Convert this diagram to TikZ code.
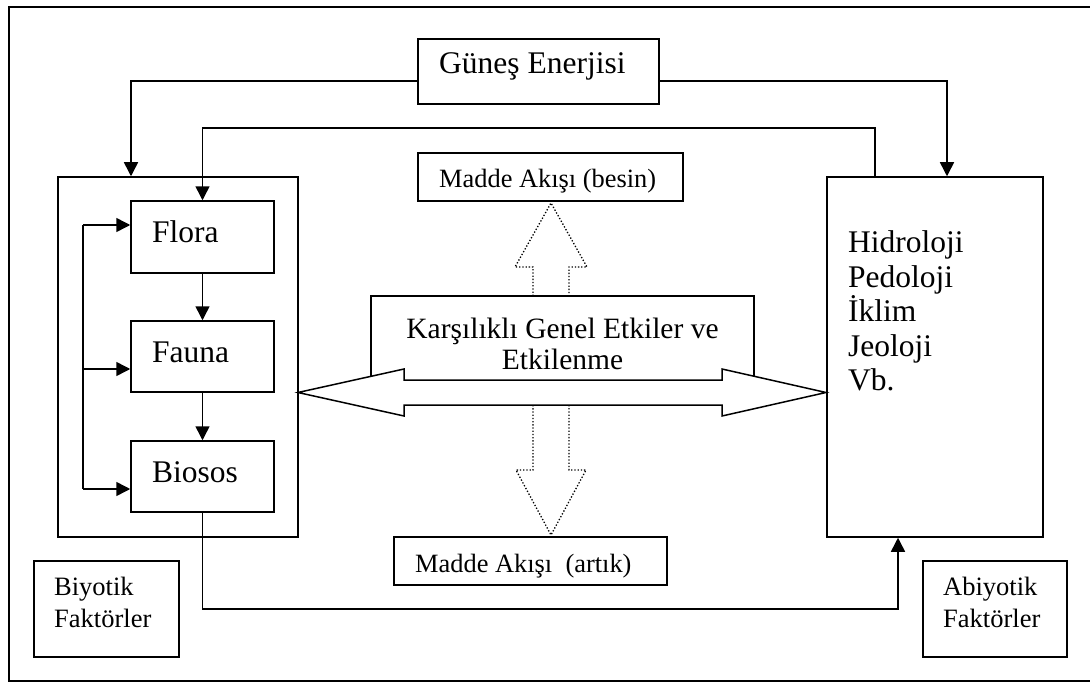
\documentclass[tikz,border=0pt]{standalone}
\usepackage{fontspec}
\setmainfont{Liberation Serif}
\usetikzlibrary{arrows.meta}
\begin{document}
\begin{tikzpicture}[x=1pt,y=-1pt,
  box/.style={draw, line width=1.5pt, fill=white, inner sep=0pt},
  conn/.style={line width=1.5pt, -{Triangle[length=14pt,width=14pt]}},
  wire/.style={line width=1.5pt},
  flow/.style={line width=1.3pt, dash pattern=on 1.3pt off 1.9pt},
  big/.style={font=\fontsize{31.5}{34.5}\selectfont, inner sep=0pt},
  mid/.style={font=\fontsize{26.4}{32}\selectfont, inner sep=0pt},
]
\useasboundingbox (0,0) rectangle (1090,682);
% outer frame
\draw[line width=2.2pt] (1096,7) -- (9,7) -- (9,680.8) -- (1096,680.8);

% energy source
\node[box, minimum width=241pt, minimum height=65pt] (gunes) at (538.5,71.5) {};
\node[big, anchor=base west] (gunesT) at (439,74) {Güneş Enerjisi};

% material flow boxes
\node[box, minimum width=265pt, minimum height=48pt] (besin) at (550.5,177) {};
\node[mid, anchor=base west] (besinT) at (439,187) {Madde Akışı (besin)};
\node[box, minimum width=273pt, minimum height=48pt] (artik) at (530.5,561) {};
\node[mid, anchor=base west] (artikT) at (415,572) {Madde Akışı\ \ (artık)};

% biotic side
\node[box, minimum width=240pt, minimum height=360pt] (bio) at (178,357) {};
\node[box, minimum width=143pt, minimum height=72pt] (flora) at (202.5,237) {};
\node[box, minimum width=143pt, minimum height=71pt] (fauna) at (202.5,356.5) {};
\node[box, minimum width=143pt, minimum height=71pt] (biosos) at (202.5,476.5) {};
\node[big, anchor=base west] (floraT) at (152,242) {Flora};
\node[big, anchor=base west] (faunaT) at (152,362) {Fauna};
\node[big, anchor=base west] (biososT) at (152,482) {Biosos};

% abiotic side
\node[box, minimum width=216pt, minimum height=360pt] (abio) at (935,357) {};
\node[big, anchor=west, align=left] (abioT) at (848,311) {Hidroloji\\Pedoloji\\İklim\\Jeoloji\\Vb.};

% legend boxes
\node[box, minimum width=145pt, minimum height=96pt] (biyotik) at (106.5,609) {};
\node[inner sep=0pt, anchor=west, align=left, font=\fontsize{26.5}{32}\selectfont] (biyotikT) at (54,602) {Biyotik\\Faktörler};
\node[box, minimum width=144pt, minimum height=96pt] (abiyotik) at (995,609) {};
\node[inner sep=0pt, anchor=west, align=left, font=\fontsize{26.5}{32}\selectfont] (abiyotikT) at (943,602) {Abiyotik\\Faktörler};

% mutual interaction box and double arrow
\node[box, minimum width=383pt, minimum height=96pt] (karsi) at (562.5,344) {};
\draw[line width=1.5pt, fill=white] (298,392.5) -- (404,369) -- (404,380) -- (722,380)
  -- (722,369) -- (826,392.5) -- (722,416) -- (722,405) -- (404,405) -- (404,416) -- cycle;
\node[inner sep=0pt, align=center, font=\fontsize{29.5}{31}\selectfont] (karsiT) at (562.5,343.5)
  {Karşılıklı Genel Etkiler ve\\Etkilenme};

% dotted flow arrows
\draw[flow] (533,296) -- (533,267) -- (515,267) -- (551,203) -- (587,267) -- (569,267) -- (569,296);
\draw[flow] (533,405) -- (533,470) -- (516,470) -- (551,535) -- (586,470) -- (569,470) -- (569,405);

% energy connectors
\draw[conn] ([yshift=-9.5pt]gunes.west) -| ([xshift=-47pt]bio.north);
\draw[conn] ([yshift=-9.5pt]gunes.east) -| ([xshift=12pt]abio.north);
\draw[conn] ([xshift=-60pt]abio.north) -- ++(0,-48) -| (flora.north);

% food chain
\draw[conn] (flora) -- (fauna);
\draw[conn] (fauna) -- (biosos);
\coordinate (loopTop) at (83,225);
\coordinate (loopMid) at (83,369);
\coordinate (loopBot) at (83,489);
\draw[wire] (loopTop) -- (loopBot);
\draw[conn] (loopTop) -- (loopTop -| flora.west);
\draw[conn] (loopMid) -- (loopMid -| fauna.west);
\draw[conn] (loopBot) -- (loopBot -| biosos.west);

% return to abiotic factors
\draw[conn] (biosos.south) |- ([xshift=-37pt,yshift=-71pt]abio.south) -- ([xshift=-37pt]abio.south);
\end{tikzpicture}
\end{document}
